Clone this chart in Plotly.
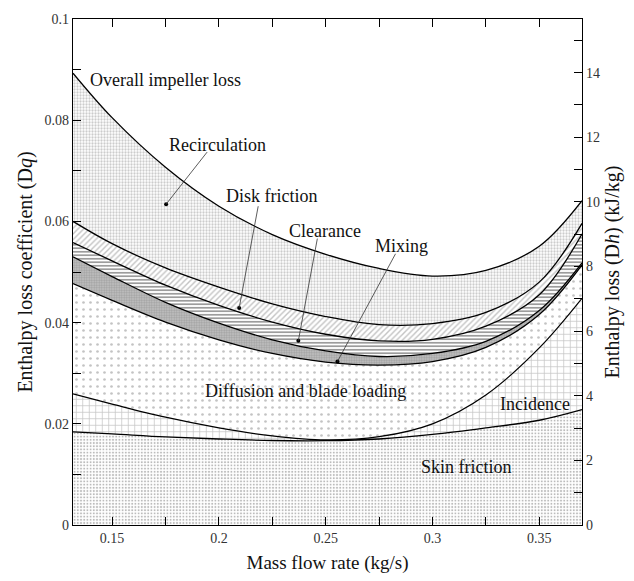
import plotly.graph_objects as go

# Mass flow rate (kg/s)
mass_flow = [0.1317, 0.15, 0.175, 0.2, 0.225, 0.25, 0.275, 0.3, 0.325, 0.35, 0.37]

# Cumulative loss boundaries (enthalpy loss coefficient)
skin_top      = [0.0184, 0.0180, 0.0174, 0.0170, 0.0167, 0.01666, 0.0170, 0.0179, 0.0192, 0.0207, 0.0228]
incidence_top = [0.0259, 0.0239, 0.0213, 0.0192, 0.0176, 0.0168, 0.01745, 0.0200, 0.0257, 0.0350, 0.0448]
diffusion_top = [0.0477, 0.0444, 0.0401, 0.0366, 0.0339, 0.0322, 0.0316, 0.0323, 0.0351, 0.0416, 0.0514]
mixing_top    = [0.0530, 0.0491, 0.0440, 0.0399, 0.0366, 0.0344, 0.0333, 0.0339, 0.0363, 0.0424, 0.0518]
clearance_top = [0.0558, 0.0522, 0.0474, 0.0434, 0.0401, 0.0377, 0.0364, 0.0367, 0.0393, 0.0455, 0.0575]
disk_top      = [0.0600, 0.0556, 0.0508, 0.0470, 0.0437, 0.0412, 0.0396, 0.0398, 0.0420, 0.0480, 0.0596]
overall_top   = [0.0893, 0.0805, 0.0707, 0.0630, 0.0574, 0.0535, 0.0507, 0.0492, 0.0503, 0.0551, 0.0641]

x_ticks = [0.15, 0.2, 0.25, 0.3, 0.35]
y_ticks = [0, 0.02, 0.04, 0.06, 0.08, 0.1]
y_tick_text = ["0", "0.02", "0.04", "0.06", "0.08", "0.1"]
y2_ticks = [0, 2, 4, 6, 8, 10, 12, 14]

FONT = "Liberation Serif"
LABEL_SIZE = 18

boundaries = [
    ("Skin friction", skin_top, "tozeroy", dict(shape=".", size=3.2, solidity=0.3, fgcolor="#777", bgcolor="white")),
    ("Incidence", incidence_top, "tonexty", dict(shape="+", size=6.5, solidity=0.22, fgcolor="#8c8c8c", bgcolor="white")),
    ("Diffusion and blade loading", diffusion_top, "tonexty", dict(shape=".", size=7, solidity=0.12, fgcolor="#888", bgcolor="white")),
    ("Mixing", mixing_top, "tonexty", dict(shape=".", size=2.5, solidity=0.5, fgcolor="#808080", bgcolor="#c4c4c4")),
    ("Clearance", clearance_top, "tonexty", dict(shape="-", size=3.5, solidity=0.45, fgcolor="#222", bgcolor="white")),
    ("Disk friction", disk_top, "tonexty", dict(shape="/", size=4, solidity=0.35, fgcolor="#888", bgcolor="white")),
    ("Recirculation", overall_top, "tonexty", dict(shape=".", size=3, solidity=0.45, fgcolor="#999", bgcolor="white")),
]

fig = go.Figure()
for name, ys, fill, pat in boundaries:
    fig.add_trace(go.Scatter(
        x=mass_flow, y=ys, mode="lines", name=name,
        line=dict(color="black", width=1.3, shape="spline", smoothing=1.0),
        fill=fill, fillpattern=pat, fillcolor="white",
        showlegend=False, hoverinfo="skip",
    ))

# invisible trace on the right axis
fig.add_trace(go.Scatter(x=[mass_flow[0]], y=[0], yaxis="y2", mode="markers",
                         marker=dict(opacity=0), showlegend=False, hoverinfo="skip"))

# leader lines: (label text, label pos, line tail, dot)
leaders = [
    ("Recirculation", (0.1992, 0.0751), (0.1945, 0.0737), (0.1753, 0.0634)),
    ("Disk friction", (0.2250, 0.0650), (0.2184, 0.0630), (0.2095, 0.0429)),
    ("Clearance", (0.2498, 0.0581), (0.2461, 0.0566), (0.2372, 0.0364)),
    ("Mixing", (0.2855, 0.0552), (0.2827, 0.0536), (0.2555, 0.0323)),
]
dot_x, dot_y = [], []
for text, lab, tail, dot in leaders:
    fig.add_annotation(x=lab[0], y=lab[1], text=text, showarrow=False,
                       font=dict(family=FONT, size=LABEL_SIZE, color="#111"))
    fig.add_shape(type="line", x0=tail[0], y0=tail[1], x1=dot[0], y1=dot[1],
                  xref="x", yref="y", line=dict(color="#333", width=0.8))
    dot_x.append(dot[0]); dot_y.append(dot[1])
fig.add_trace(go.Scatter(x=dot_x, y=dot_y, mode="markers",
                         marker=dict(color="black", size=4), showlegend=False, hoverinfo="skip"))

plain_labels = [
    ("Overall impeller loss", 0.1388, 0.0879, "left"),
    ("Diffusion and blade loading", 0.2405, 0.0265, "center"),
    ("Incidence", 0.3478, 0.0239, "center"),
    ("Skin friction", 0.3159, 0.0114, "center"),
]
for text, x, y, anchor in plain_labels:
    fig.add_annotation(x=x, y=y, text=text, showarrow=False, xanchor=anchor,
                       font=dict(family=FONT, size=LABEL_SIZE, color="#111"))

axis_common = dict(
    showline=True, linecolor="black", linewidth=1.2,
    ticks="inside", ticklen=8, tickcolor="black", tickwidth=1.2,
    showgrid=False, zeroline=False,
    tickfont=dict(family=FONT, size=14, color="#333"),
)
minor_common = dict(ticks="inside", ticklen=8, tickcolor="black", tickwidth=1.2)

fig.update_layout(
    width=634, height=581,
    margin=dict(l=73, r=52, t=15, b=53),
    paper_bgcolor="white", plot_bgcolor="white",
    font=dict(family=FONT, color="#111"),
    xaxis=dict(range=[0.1317, 0.37], tickvals=x_ticks, ticktext=[str(v) for v in x_ticks],
               mirror="ticks", minor=dict(dtick=0.025, tick0=0.025, **minor_common),
               title=dict(text="Mass flow rate (kg/s)", font=dict(family=FONT, size=19), standoff=10),
               **axis_common),
    yaxis=dict(range=[0, 0.1], tickvals=y_ticks, ticktext=y_tick_text,
               minor=dict(dtick=0.01, **minor_common),
               title=dict(text="Enthalpy loss coefficient (D<i>q</i>)", font=dict(family=FONT, size=20), standoff=6),
               **axis_common),
    yaxis2=dict(range=[0, 15.66], overlaying="y", side="right", tickvals=y2_ticks,
                minor=dict(dtick=1, **minor_common),
                title=dict(text="Enthalpy loss (D<i>h</i>) (kJ/kg)", font=dict(family=FONT, size=20), standoff=6),
                **axis_common),
)

fig.write_html("out.html", config={"displayModeBar": False},
               post_script="document.body.style.margin='0';")
